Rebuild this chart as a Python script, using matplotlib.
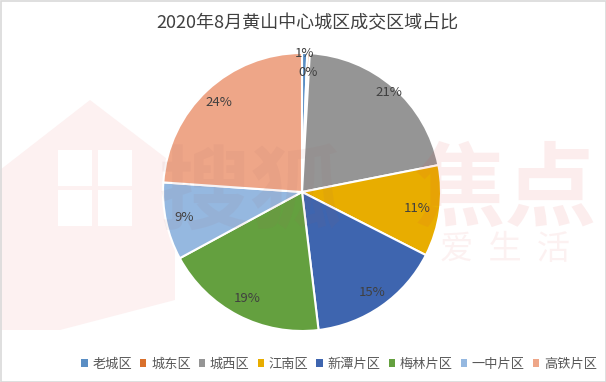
import numpy as np
import matplotlib
matplotlib.use("Agg")
import matplotlib.pyplot as plt
from matplotlib.patches import Polygon, Rectangle

plt.rcParams['font.family'] = ['Noto Sans CJK SC', 'DejaVu Sans']

## Data

title = "2020年8月黄山中心城区成交区域占比"
districts = ["老城区", "城东区", "城西区", "江南区", "新潭片区", "梅林片区", "一中片区", "高铁片区"]
shares = [0.6, 0.3, 21.0, 10.6, 15.6, 19.0, 9.0, 23.9]
pct_labels = ["1%", "0%", "21%", "11%", "15%", "19%", "9%", "24%"]
colors = ["#5A8EC4", "#D9702C", "#959595", "#E8AD00", "#3E65AF", "#64A03F", "#95B8E0", "#EEA688"]

# radial position of each label (fraction of radius), tuned to the reference
label_r = [1.0, 0.86, 0.95, 0.84, 0.88, 0.86, 0.87, 0.88]

W, H = 606, 382


def main():
    fig = plt.figure(figsize=(W / 100, H / 100), dpi=100)

    # faint watermark behind the chart
    house = Polygon([(0 / W, 1 - 330 / H), (0 / W, 1 - 170 / H), (90 / W, 1 - 100 / H),
                     (175 / W, 1 - 165 / H), (175 / W, 1 - 300 / H), (60 / W, 1 - 330 / H)],
                    closed=True, transform=fig.transFigure, facecolor="#FDF1F1",
                    edgecolor="none", zorder=0)
    fig.add_artist(house)
    for wx, wy in [(58, 150), (98, 150), (58, 190), (98, 190)]:
        fig.add_artist(Rectangle((wx / W, 1 - (wy + 36) / H), 34 / W, 36 / H,
                                 transform=fig.transFigure, facecolor="white",
                                 edgecolor="none", zorder=0))

    # pie axes: center (302,192), radius 139 px
    cx, cy, r = 302, 192, 139
    ax = fig.add_axes([(cx - r) / W, (H - cy - r) / H, 2 * r / W, 2 * r / H])
    wedges, _ = ax.pie(shares, colors=colors, startangle=90, counterclock=False,
                       wedgeprops=dict(edgecolor="white", linewidth=1.5))
    ax.set_xlim(-1, 1)
    ax.set_ylim(-1, 1)
    ax.axis("off")

    for w, lab, rr in zip(wedges, pct_labels, label_r):
        mid = np.deg2rad((w.theta1 + w.theta2) / 2)
        ax.text(rr * np.cos(mid), rr * np.sin(mid), lab, ha="center", va="center",
                fontsize=9.5, color="#404040", clip_on=False, zorder=10)

    # watermark text over everything, very light
    fig.text(250 / W, 1 - 195 / H, "搜狐", fontsize=66, color="#A06060", alpha=0.07,
             ha="center", va="center", fontweight="bold", zorder=5)
    fig.text(505 / W, 1 - 192 / H, "焦点", fontsize=66, color="#E04040", alpha=0.09,
             ha="center", va="center", fontweight="bold", zorder=5)
    fig.text(505 / W, 1 - 250 / H, "爱  生  活", fontsize=24, color="#E04040", alpha=0.07,
             ha="center", va="center", zorder=5)

    fig.text(307 / W, 1 - 23 / H, title, fontsize=13, color="#404040",
             ha="center", va="center", fontweight="medium")

    handles = [Rectangle((0, 0), 1, 1, facecolor=c, edgecolor="none") for c in colors]
    fig.legend(handles, districts, loc="center", bbox_to_anchor=(339 / W, 1 - 364 / H),
               ncol=8, frameon=False, fontsize=9.5, handlelength=0.5, handleheight=0.5,
               handletextpad=0.35, columnspacing=0.6, labelcolor="#595959",
               borderpad=0.2, borderaxespad=0)

    # thin frame around the image
    fig.add_artist(Rectangle((0.5 / W, 0.5 / H), 1 - 1 / W, 1 - 1 / H, transform=fig.transFigure,
                             facecolor="none", edgecolor="#D9D9D9", linewidth=1.2))

    fig.savefig("out.png", dpi=100)


if __name__ == "__main__":
    main()
